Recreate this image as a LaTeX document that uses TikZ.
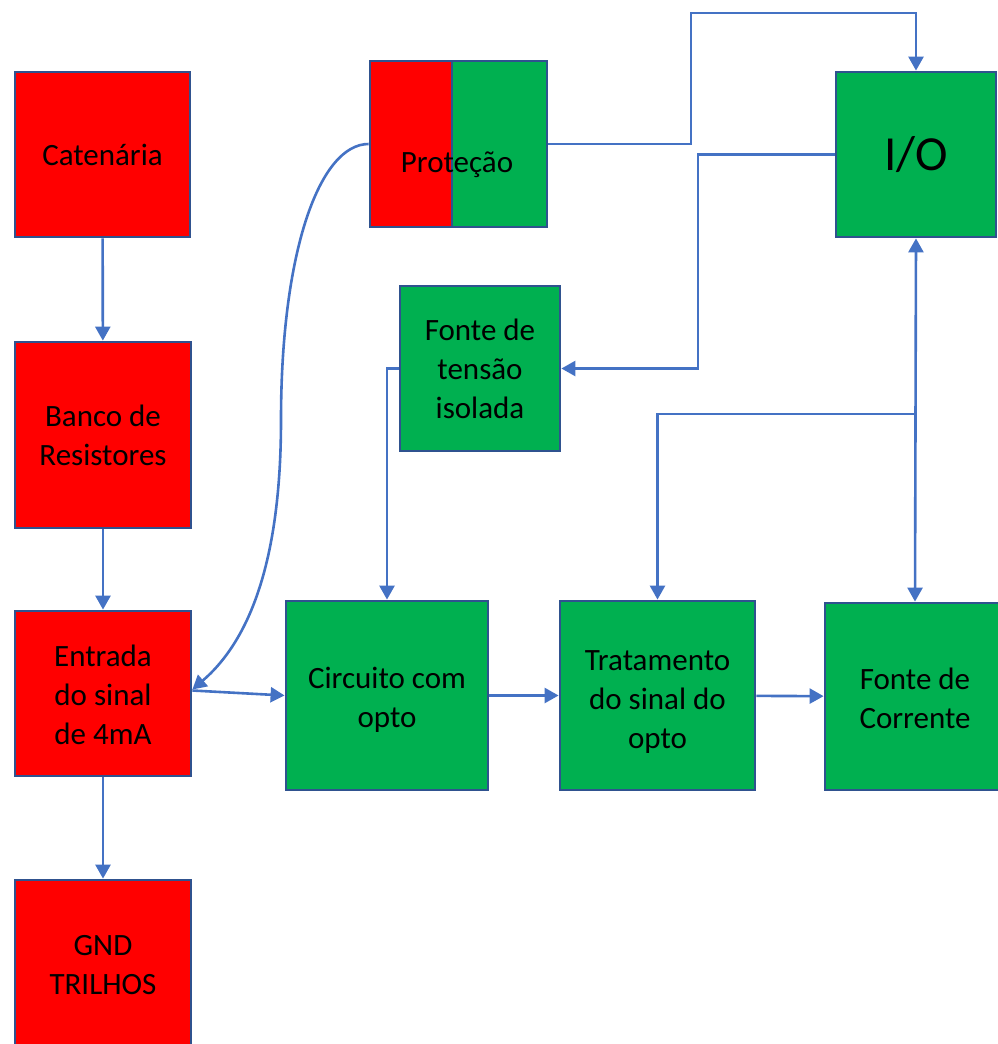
\documentclass[tikz,border=0pt]{standalone}
\usepackage{fontspec}
\setmainfont{Carlito}
\usetikzlibrary{arrows.meta}
\definecolor{blocored}{HTML}{FF0000}
\definecolor{blocogreen}{HTML}{00B050}
\definecolor{bordablue}{HTML}{2F528F}
\definecolor{linhablue}{HTML}{4472C4}

\begin{document}
\begin{tikzpicture}[x=1pt,y=-1pt,
	bloco/.style={rectangle,draw=bordablue,line width=2.8pt,align=center,inner sep=0pt,font=\fontsize{31}{39}\selectfont},
	vermelho/.style={bloco,fill=blocored},
	verde/.style={bloco,fill=blocogreen},
	linha/.style={draw=linhablue,line width=2.6pt},
	>={Triangle[length=14pt,width=15pt]}]
	\useasboundingbox (0,0) rectangle (997,1044);

	\node[vermelho,minimum width=175pt,minimum height=165pt] (cat) at (102.5,154.5) {\rule{0pt}{23pt}Catenária};
	\node[vermelho,minimum width=176pt,minimum height=186pt] (banco) at (103,435) {Banco de\\Resistores};
	\node[vermelho,minimum width=176pt,minimum height=165pt] (entrada) at (103,693.5) {\rule{0pt}{25pt}Entrada\\do sinal\\de 4mA};
	\node[vermelho,minimum width=176pt,minimum height=170pt] (gnd) at (103,965) {GND\\TRILHOS};

	\node[vermelho,minimum width=82pt,minimum height=166pt] (protA) at (411,144) {};
	\node[verde,minimum width=95pt,minimum height=166pt] (protB) at (499.5,144) {};
	\node[font=\fontsize{31}{39}\selectfont,inner sep=0pt] (prot) at (457,165) {Proteção};

	\node[verde,minimum width=160pt,minimum height=165pt,font=\fontsize{49}{59}\selectfont] (io) at (916,154.5) {I/O};
	\node[verde,minimum width=160pt,minimum height=165pt] (tensao) at (480,368.5) {Fonte de\\tensão\\isolada};

	\node[verde,minimum width=202pt,minimum height=189pt] (circ) at (387,695.5) {\rule{0pt}{29pt}Circuito com\\opto};
	\node[verde,minimum width=195pt,minimum height=189pt] (trat) at (657.5,695.5) {\rule{0pt}{32pt}Tratamento\\do sinal do\\opto};
	\node[verde,minimum width=180pt,minimum height=187pt] (fcorr) at (915,696.5) {\rule{0pt}{25pt}Fonte de\\Corrente};

	\coordinate (volta) at (691,13);
	\coordinate (desce) at (698,368.5);
	\coordinate (ramo) at (915,414);
	\coordinate (curva) at (281,420);

	\draw[linha,->] (cat) -- (banco);
	\draw[linha,->] (banco) -- (entrada);
	\draw[linha,->] (entrada) -- (gnd);
	\draw[linha,->] ([yshift=3pt]entrada.east) -- (circ.west);
	\draw[linha,->] (circ) -- (trat);
	\draw[linha,->] (trat) -- (fcorr);

	\draw[linha,->] (protA.west) .. controls (320,144) and (281,250) .. (curva)
		.. controls (281,560) and (250,640) .. ([yshift=4pt]entrada.east);
	\draw[linha,->] (protB.east) -| (volta) -| (io.north);
	\draw[linha,->] (io.west) -| (desce) -- (tensao.east);
	\draw[linha,->] (tensao.west) -| (circ.north);
	\draw[linha,<->] (io.south) -- (fcorr.north);
	\draw[linha,->] (ramo) -| (trat.north);
\end{tikzpicture}
\end{document}
